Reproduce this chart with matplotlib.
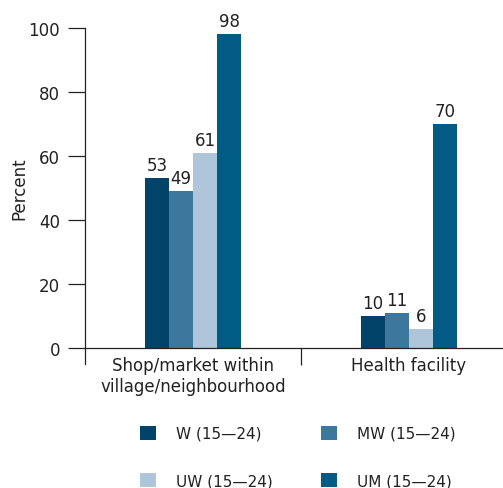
import matplotlib
matplotlib.use("Agg")
import matplotlib.pyplot as plt
import numpy as np
from matplotlib.patches import Patch

categories = ["Shop/market within\nvillage/neighbourhood", "Health facility"]
series_names = ["W (15\u201424)", "MW (15\u201424)", "UW (15\u201424)", "UM (15\u201424)"]
w_vals = [53, 10]
mw_vals = [49, 11]
uw_vals = [61, 6]
um_vals = [98, 70]
colors = ["#02436a", "#3c789e", "#afc5d9", "#015b85"]
yticks = [0, 20, 40, 60, 80, 100]


def main():
    plt.rcParams["font.family"] = ["DejaVu Sans"]
    fs = 12
    fig = plt.figure(figsize=(5.03, 4.89), dpi=100)
    ax = fig.add_axes([85 / 503, 124 / 489, 418 / 503, 336 / 489])

    x = np.arange(len(categories))
    width = 24 / 216
    all_vals = [w_vals, mw_vals, uw_vals, um_vals]
    for i, (vals, col, name) in enumerate(zip(all_vals, colors, series_names)):
        bars = ax.bar(x + (i - 1.5) * width, vals, width, color=col, label=name)
        ax.bar_label(bars, padding=3, fontsize=fs, color="#222222")

    ax.set_xlim(-0.5, 1.5 - 14 / 216)
    ax.set_ylim(-5, 100)
    ax.set_yticks(yticks)
    ax.set_xticks(x)
    ax.set_xticks([0.5], minor=True)
    ax.set_xticklabels(categories, linespacing=1.15)

    ax.spines["top"].set_visible(False)
    ax.spines["right"].set_visible(False)
    ax.spines["bottom"].set_position(("data", 0))
    for s in ("left", "bottom"):
        ax.spines[s].set_linewidth(0.9)
        ax.spines[s].set_color("#222222")

    ax.tick_params(axis="y", length=12, width=0.9, color="#222222",
                   labelsize=fs, labelcolor="#222222", pad=6)
    ax.tick_params(axis="x", which="major", length=0, pad=6,
                   labelsize=12, labelcolor="#222222")
    ax.tick_params(axis="x", which="minor", length=12, width=0.9, color="#222222")
    ax.set_ylabel("Percent", fontsize=fs, color="#222222")
    ax.yaxis.set_label_coords(-0.135, 0.5 + 5 / 105 / 2)

    # legend fills column-wise, so order as W, UW | MW, UM
    order = [0, 2, 1, 3]
    handles = [Patch(facecolor=colors[k], edgecolor="none") for k in order]
    labels = [series_names[k] for k in order]
    fig.legend(handles, labels, ncol=2, frameon=False, fontsize=11,
               loc="lower left", bbox_to_anchor=(126 / 503, -14 / 489),
               handlelength=1.05, handleheight=1.05, handletextpad=1.35,
               columnspacing=3.1, labelspacing=2.1, labelcolor="#222222")

    fig.savefig("out.png", dpi=100)


if __name__ == "__main__":
    main()
